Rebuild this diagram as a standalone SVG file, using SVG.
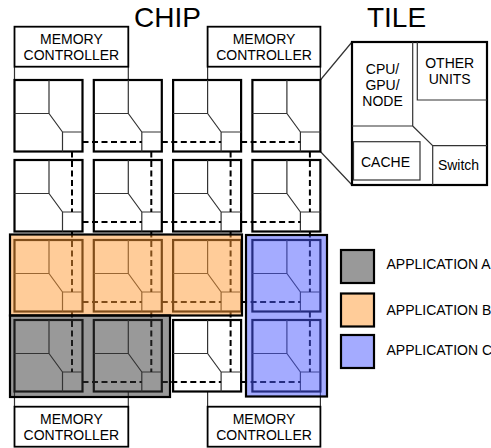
<svg xmlns="http://www.w3.org/2000/svg" width="491" height="448" viewBox="0 0 491 448">
<style>
.tile rect{fill:#fff;stroke:#000;stroke-width:2.2}
.tile path{fill:none;stroke:#333;stroke-width:1.2}
.mc rect{fill:#fff;stroke:#000;stroke-width:1.8}
text{font-family:"Liberation Sans",Arial,Helvetica,sans-serif;font-size:14px;fill:#000}
.c{text-anchor:middle}
.title{font-size:28px}
.link{stroke:#333;stroke-width:1.2;fill:none}
.net{stroke:#000;stroke-width:2;stroke-dasharray:6 3.5;fill:none}
.rb{fill:none;stroke:#000;stroke-width:2.2}
.leg rect{stroke:#000;stroke-width:2.2}
.big rect{fill:#fff;stroke:#000;stroke-width:2.2}
.big path{fill:none;stroke:#333;stroke-width:1.2}
</style>

<text class="title c" x="167.5" y="26.5">CHIP</text>
<text class="title c" x="396.5" y="26.5">TILE</text>

<g id="connectors">
  <path class="link" d="M14.5 66.7V80M128.3 66.7V80M207.6 66.7V80M320.4 66.7V80"/>
  <path class="link" d="M14.5 391.5V406.7M128.3 391.5V406.7M207.6 391.5V406.7M320.4 391.5V406.7"/>
  <path class="link" d="M320.4 80L352 42M320.4 151.5L352 185"/>
</g>

<g id="mc-top-left" class="mc"><rect x="14.5" y="26.7" width="113.8" height="40"/><text class="c" x="71.4" y="44">MEMORY</text><text class="c" x="71.4" y="60.2">CONTROLLER</text></g>
<g id="mc-top-right" class="mc"><rect x="207.6" y="26.7" width="112.8" height="40"/><text class="c" x="264" y="44">MEMORY</text><text class="c" x="264" y="60.2">CONTROLLER</text></g>
<g id="mc-bottom-left" class="mc"><rect x="14.5" y="406.7" width="113.8" height="40"/><text class="c" x="71.4" y="423.8">MEMORY</text><text class="c" x="71.4" y="440">CONTROLLER</text></g>
<g id="mc-bottom-right" class="mc"><rect x="207.6" y="406.7" width="112.8" height="40"/><text class="c" x="264" y="423.8">MEMORY</text><text class="c" x="264" y="440">CONTROLLER</text></g>

<g id="tile-r0c0" class="tile" transform="translate(14.5 80)"><rect width="68" height="71.5"/><path d="M34.5 0V33.5H0M34.5 33.5L48 52M48 71.5V52H68"/></g>
<g id="tile-r0c1" class="tile" transform="translate(93.8 80)"><rect width="68" height="71.5"/><path d="M34.5 0V33.5H0M34.5 33.5L48 52M48 71.5V52H68"/></g>
<g id="tile-r0c2" class="tile" transform="translate(173.1 80)"><rect width="68" height="71.5"/><path d="M34.5 0V33.5H0M34.5 33.5L48 52M48 71.5V52H68"/></g>
<g id="tile-r0c3" class="tile" transform="translate(252.4 80)"><rect width="68" height="71.5"/><path d="M34.5 0V33.5H0M34.5 33.5L48 52M48 71.5V52H68"/></g>
<g id="tile-r1c0" class="tile" transform="translate(14.5 160)"><rect width="68" height="71.5"/><path d="M34.5 0V33.5H0M34.5 33.5L48 52M48 71.5V52H68"/></g>
<g id="tile-r1c1" class="tile" transform="translate(93.8 160)"><rect width="68" height="71.5"/><path d="M34.5 0V33.5H0M34.5 33.5L48 52M48 71.5V52H68"/></g>
<g id="tile-r1c2" class="tile" transform="translate(173.1 160)"><rect width="68" height="71.5"/><path d="M34.5 0V33.5H0M34.5 33.5L48 52M48 71.5V52H68"/></g>
<g id="tile-r1c3" class="tile" transform="translate(252.4 160)"><rect width="68" height="71.5"/><path d="M34.5 0V33.5H0M34.5 33.5L48 52M48 71.5V52H68"/></g>
<g id="tile-r2c0" class="tile" transform="translate(14.5 240)"><rect width="68" height="71.5"/><path d="M34.5 0V33.5H0M34.5 33.5L48 52M48 71.5V52H68"/></g>
<g id="tile-r2c1" class="tile" transform="translate(93.8 240)"><rect width="68" height="71.5"/><path d="M34.5 0V33.5H0M34.5 33.5L48 52M48 71.5V52H68"/></g>
<g id="tile-r2c2" class="tile" transform="translate(173.1 240)"><rect width="68" height="71.5"/><path d="M34.5 0V33.5H0M34.5 33.5L48 52M48 71.5V52H68"/></g>
<g id="tile-r2c3" class="tile" transform="translate(252.4 240)"><rect width="68" height="71.5"/><path d="M34.5 0V33.5H0M34.5 33.5L48 52M48 71.5V52H68"/></g>
<g id="tile-r3c0" class="tile" transform="translate(14.5 320)"><rect width="68" height="71.5"/><path d="M34.5 0V33.5H0M34.5 33.5L48 52M48 71.5V52H68"/></g>
<g id="tile-r3c1" class="tile" transform="translate(93.8 320)"><rect width="68" height="71.5"/><path d="M34.5 0V33.5H0M34.5 33.5L48 52M48 71.5V52H68"/></g>
<g id="tile-r3c2" class="tile" transform="translate(173.1 320)"><rect width="68" height="71.5"/><path d="M34.5 0V33.5H0M34.5 33.5L48 52M48 71.5V52H68"/></g>
<g id="tile-r3c3" class="tile" transform="translate(252.4 320)"><rect width="68" height="71.5"/><path d="M34.5 0V33.5H0M34.5 33.5L48 52M48 71.5V52H68"/></g>

<g id="network">
  <path class="net" d="M82.5 142H141.8M161.8 142H221.1M241.1 142H300.4M82.5 222H141.8M161.8 222H221.1M241.1 222H300.4M82.5 302H141.8M161.8 302H221.1M241.1 302H300.4M82.5 382H141.8M161.8 382H221.1M241.1 382H300.4"/>
  <path class="net" d="M72 151.5V212M72 231.5V292M72 311.5V372M151.3 151.5V212M151.3 231.5V292M151.3 311.5V372M230.6 151.5V212M230.6 231.5V292M230.6 311.5V372M309.9 151.5V212M309.9 231.5V292M309.9 311.5V372"/>
</g>

<g id="regions">
  <g id="app-b-region"><rect x="10" y="234.5" width="232" height="81" fill="#FF9933" fill-opacity="0.5"/><rect class="rb" x="10" y="234.5" width="232" height="81"/></g>
  <g id="app-a-region"><rect x="10" y="315.5" width="160" height="81.5" fill="#333333" fill-opacity="0.5"/><rect class="rb" x="10" y="315.5" width="160" height="81.5"/></g>
  <g id="app-c-region"><rect x="246" y="235" width="81" height="161.5" fill="#4957FF" fill-opacity="0.5"/><rect class="rb" x="246" y="235" width="81" height="161.5"/></g>
</g>

<g id="tile-detail" class="big">
  <rect x="352" y="42" width="135" height="143"/>
  <path d="M412.7 42V126H352M412.7 126L432.7 145.7H487M432.7 145.7V185M417.3 42V100H487"/>
  <rect x="353.5" y="141.7" width="66.5" height="38.3" style="stroke:#333;stroke-width:1.2"/>
  <text class="c" x="382.5" y="74">CPU/</text>
  <text class="c" x="382.5" y="90">GPU/</text>
  <text class="c" x="382.5" y="106">NODE</text>
  <text class="c" x="449.7" y="68.3">OTHER</text>
  <text class="c" x="449.7" y="84.3">UNITS</text>
  <text class="c" x="385.5" y="166.5">CACHE</text>
  <text class="c" x="458.5" y="170">Switch</text>
</g>

<g id="legend" class="leg">
  <g id="legend-a"><rect x="341" y="250" width="33" height="33" fill="#999999"/><text x="386.5" y="268.5">APPLICATION A</text></g>
  <g id="legend-b"><rect x="341" y="293.5" width="33" height="33" fill="#FFCC99"/><text x="386.5" y="314.5">APPLICATION B</text></g>
  <g id="legend-c"><rect x="341" y="335" width="33" height="33" fill="#A4ABFF"/><text x="386.5" y="355">APPLICATION C</text></g>
</g>
</svg>
